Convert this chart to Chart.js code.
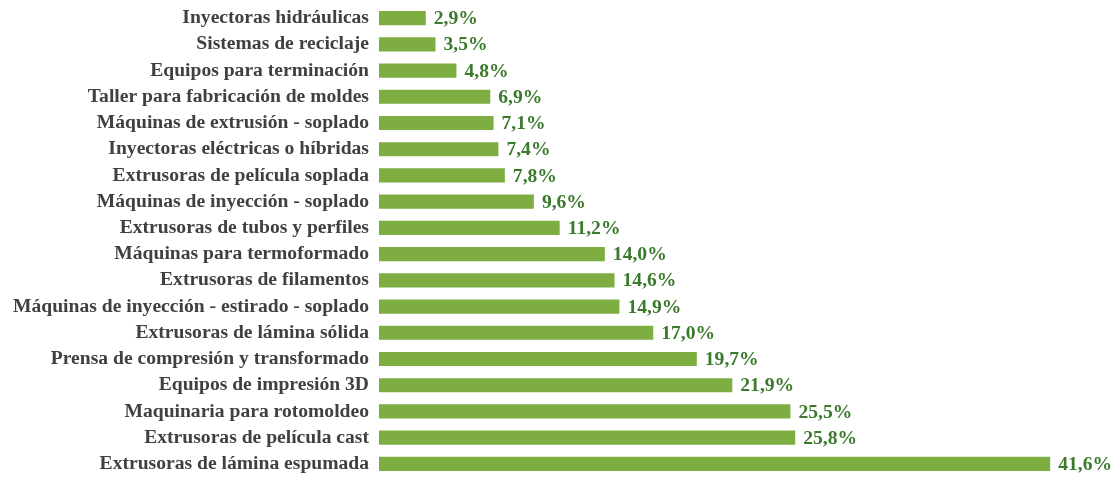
<!DOCTYPE html>
<html>
<head>
<meta charset="utf-8">
<script src="https://cdn.jsdelivr.net/npm/chart.js@4"></script>
<style>
  body { margin: 0; background: #fff; overflow: hidden; }
  #wrap { width: 1118px; height: 477px; position: relative; }
</style>
</head>
<body>
<div id="wrap"><canvas id="myChart"></canvas></div>
<script>
const categories = [
  'Inyectoras hidráulicas',
  'Sistemas de reciclaje',
  'Equipos para terminación',
  'Taller para fabricación de moldes',
  'Máquinas de extrusión - soplado',
  'Inyectoras eléctricas o híbridas',
  'Extrusoras de película soplada',
  'Máquinas de inyección - soplado',
  'Extrusoras de tubos y perfiles',
  'Máquinas para termoformado',
  'Extrusoras de filamentos',
  'Máquinas de inyección - estirado - soplado',
  'Extrusoras de lámina sólida',
  'Prensa de compresión y transformado',
  'Equipos de impresión 3D',
  'Maquinaria para rotomoldeo',
  'Extrusoras de película cast',
  'Extrusoras de lámina espumada'
];
const shares = [2.9, 3.5, 4.8, 6.9, 7.1, 7.4, 7.8, 9.6, 11.2, 14.0, 14.6, 14.9, 17.0, 19.7, 21.9, 25.5, 25.8, 41.6];

const serif = '"Liberation Serif", "Times New Roman", serif';

// writes "x,y%" just past the end of each bar
const valueLabels = {
  id: 'valueLabels',
  afterDatasetsDraw(chart) {
    const ctx = chart.ctx;
    const meta = chart.getDatasetMeta(0);
    ctx.save();
    ctx.font = 'bold 19.6px ' + serif;
    ctx.fillStyle = '#3b7a2c';
    ctx.textAlign = 'left';
    ctx.textBaseline = 'middle';
    meta.data.forEach((bar, i) => {
      ctx.fillText(shares[i].toFixed(1).replace('.', ',') + '%', bar.x + 8, bar.y + 1);
    });
    ctx.restore();
  }
};

new Chart(document.getElementById('myChart'), {
  type: 'bar',
  data: {
    labels: categories,
    datasets: [{
      data: shares,
      backgroundColor: '#7eae42',
      borderWidth: 0,
      barPercentage: 0.54,
      categoryPercentage: 1
    }]
  },
  options: {
    indexAxis: 'y',
    responsive: true,
    maintainAspectRatio: false,
    animation: false,
    layout: { padding: { top: 5, right: 13, bottom: 0, left: 0 } },
    plugins: {
      legend: { display: false },
      tooltip: { enabled: false }
    },
    scales: {
      x: {
        display: false,
        min: 0,
        max: 45
      },
      y: {
        afterFit: (scale) => {
          scale.width = 379;
          scale.paddingTop = 0;
          scale.paddingBottom = 0;
        },
        grid: { display: false, drawTicks: false },
        border: { display: false },
        ticks: {
          autoSkip: false,
          padding: 10,
          color: '#404040',
          font: { family: serif, size: 19.6, weight: 'bold' }
        }
      }
    }
  },
  plugins: [valueLabels]
});
</script>
</body>
</html>
